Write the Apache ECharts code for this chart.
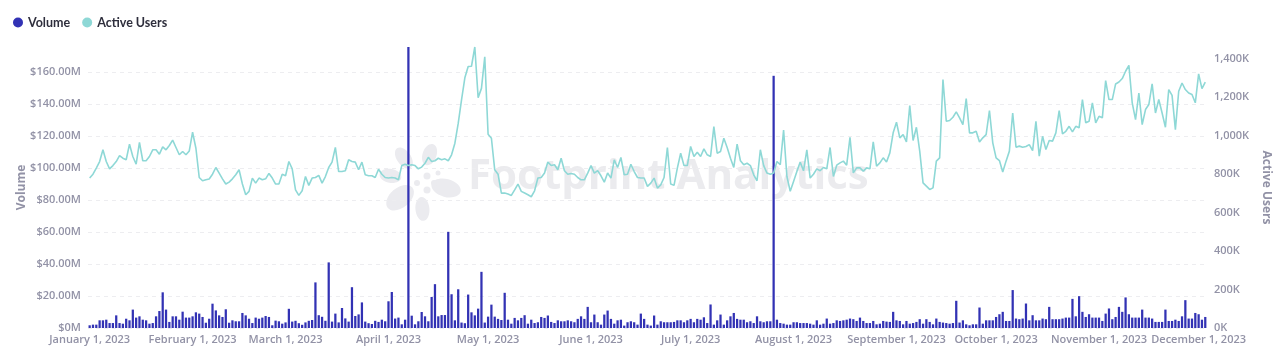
<!DOCTYPE html>
<html><head><meta charset="utf-8">
<script src="https://cdn.jsdelivr.net/npm/echarts@6/dist/echarts.min.js"></script>
<style>html,body{margin:0;padding:0;background:#fff}#c{width:1280px;height:358px}</style>
</head><body><div id="c"></div>
<script>
// ---- data ----
const startDate = [2023, 0, 1];   // January 1, 2023, one category per day
const dayCount = 337;             // through December 3, 2023
const monthNames = ['January','February','March','April','May','June','July','August','September','October','November','December'];

// daily trading volume, in millions of USD
const volumeM = [
 1.7,2.1,2.1,4.8,4.8,5.2,3.1,3.1,7.9,3.1,
 2.7,5.8,4.8,11.5,6.5,7.3,5.2,4.8,2.7,3.1,
 7.3,10.6,22.3,11.5,3.8,7.3,7.3,5.2,10.2,6.5,
 6.5,7.3,9.8,
 9,6.9,3.3,5.8,15.2,11,7.9,6.9,11.7,3.3,4.8,4.2,4.2,9.4,7.9,5.8,3.1,6.5,5.8,6.5,7.5,6.9,1.7,4.6,4.2,2.7,3.5,12,
 4,4.5,3,2,3.5,4.5,5,28.5,8,7,4.5,41,4,9,3.5,12.5,6,4,25.5,7.5,8.5,16,4,3,2.5,4.5,3.8,5.2,4.2,16.7,22.5,5.9,6.5,2.3,5.2,
 175.6,7.7,2.3,4.2,10,7.3,4.2,19.4,27.4,7.3,8.1,8.1,60.1,21.1,4.8,24.2,3.4,3.0,20.9,9.8,7.9,12.1,35.1,3.4,7.1,14.6,7.1,5.7,5,22,
 5.2,2.7,6.3,4.8,6.3,8,2.7,5.2,3.1,3.6,
 6.9,6.3,7.8,3.8,3.1,4.8,4.2,4.2,4.8,4.2,
 3.6,5.7,7.3,5.7,13.2,3.6,8.4,3.6,2.1,8.4,
 10.9,5.7,2.7,4.8,5.2,1.5,3.6,4.2,3.6,2.1,
 9,5.7,2.1,1.5,7.8,2.1,4.2,3.6,3.6,3.6,
 3.8,4.8,4.8,3.6,4.8,5.7,3.6,5.7,5.2,6.7,
 3.1,14.7,2.1,4.8,8.4,2.1,4.8,7.3,9.4,5.7,
 5.2,5.2,3.6,4.2,3.1,7.3,4.2,3.6,4.2,4.2,
 157.6,
 5.2,3.1,2.7,2.1,2.1,3.6,3.6,3.1,3.1,3.1,2.7,2.1,4.8,2.1,2.7,
 5.9,2.7,3.1,4.8,4.4,4.8,5.2,5.9,5.5,4.4,
 6.5,4.4,3.1,3.1,4.4,2.3,2.7,4.4,4.0,3.8,
 10.1,4.8,4.4,2.3,4.4,2.7,3.1,3.8,5.5,2.7,
 5.5,3.8,2.3,5.9,3.8,3.4,3.1,2.7,3.1,17,
 3.4,4.8,2.3,1.7,2.3,2.3,12.8,2.7,4.8,4.8,
 4.8,6.9,8.6,10.1,4.4,4.4,23.7,5.9,5.5,5.9,
 15.3,4.8,8,4.8,4.8,5.9,5.5,13.2,5.5,5.5,
 5.5,5.9,6.5,6.5,18.2,7.3,19.9,10.1,6.9,8.6,
 6.5,6.5,6.5,4.4,9,12.2,5.5,6.9,13.2,10.1,
 19.1,8.6,6.5,6.5,6.5,11.5,6.5,6.5,5.9,3.8,
 3.8,3.8,11.5,4.4,4.4,5.2,4.4,7.3,17.4,5.9,
 5.9,9.4,8.6,5.2,6.9
];

// daily active users, in thousands
const activeUsersK = [
 779,799,831,865,926,865,827,844,865,896,
 882,874,955,891,851,965,869,869,891,926,
 926,903,941,926,948,976,938,900,917,900,
 920,1017,934,782,765,770,774,799,834,805,
 775,748,758,775,796,822,748,692,710,779,
 753,779,770,775,803,779,748,748,799,791,
 865,827,718,689,713,787,741,779,782,793,
 753,787,834,862,938,813,813,817,874,865,
 862,822,862,796,791,791,782,825,799,782,
 779,782,779,770,844,851,844,848,844,827,
 836,856,887,865,869,882,874,879,869,900,
 960,1063,1185,1300,1359,1360,1460,
 1197,1245,1409,1007,986,822,799,701,701,696,
 689,718,748,710,701,692,682,713,779,782,
 805,862,844,848,822,882,817,799,803,799,
 782,770,770,805,844,805,818,791,758,805,
 779,874,834,886,796,799,851,813,782,779,
 779,736,753,779,727,744,782,938,748,741,
 831,908,844,844,943,891,913,891,931,900,
 891,1046,908,917,986,938,882,834,955,869,
 848,856,844,796,765,926,844,805,799,805,
 865,848,1029,787,710,761,813,862,817,926,
 779,799,827,817,834,827,938,787,
 846,858,867,846,991,806,832,832,815,832,
 827,967,841,858,884,863,910,1014,1069,988,
 1005,967,1156,974,1043,919,754,737,720,728,
 867,884,1291,1074,1078,1095,1123,1092,1057,1192,
 1014,1014,1022,967,988,1005,1130,962,884,870,
 811,867,919,1117,939,945,939,943,953,922,
 1074,893,996,927,974,971,1014,1130,1009,1022,
 1048,1019,1048,1040,1187,1066,1074,1170,1066,1100,
 1092,1285,1187,1187,1268,1278,1296,1334,1365,1170,
 1083,1221,1057,1135,1161,1268,1117,1187,1117,1043,
 1239,1209,1031,1230,1273,1239,1221,1213,1170,1320,
 1244,1278
];

// ---- build categories ----
const dates = [];
for (let i = 0; i < dayCount; i++) {
  const d = new Date(Date.UTC(startDate[0], startDate[1], startDate[2] + i));
  dates.push(d.toISOString().slice(0, 10));
}
function fmtDate(s) {
  const p = s.split('-');
  return monthNames[+p[1] - 1] + ' ' + (+p[2]) + ', ' + p[0];
}

const gray = '#9292a6';
const font = '"Open Sans", "Noto Sans", sans-serif';

const chart = echarts.init(document.getElementById('c'), null, {renderer: 'canvas'});

// watermark logo petals (decorative)
const petals = [
  {a: -125, r: 28, rx: 12, ry: 7}, {a: -70, r: 28, rx: 11, ry: 7}, {a: 15, r: 27, rx: 15, ry: 9},
  {a: 85, r: 28, rx: 12, ry: 7}, {a: 140, r: 26, rx: 16, ry: 10}, {a: 190, r: 30, rx: 11, ry: 7}
];
const logoChildren = petals.map(p => ({
  type: 'ellipse',
  x: Math.cos(p.a * Math.PI / 180) * p.r,
  y: Math.sin(p.a * Math.PI / 180) * p.r,
  rotation: -p.a * Math.PI / 180,
  shape: {cx: 0, cy: 0, rx: p.rx, ry: p.ry},
  style: {fill: '#ebebef'}
}));
[[7,-5,3.5],[14,2,3],[7,9,3.5],[-3,2,3],[18,-8,2.5]].forEach(c => logoChildren.push({
  type: 'circle', shape: {cx: c[0], cy: c[1], r: c[2]}, style: {fill: '#ebebef'}
}));

chart.setOption({
  animation: false,
  backgroundColor: '#ffffff',
  textStyle: {fontFamily: font},
  legend: {
    data: ['Volume', 'Active Users'],
    left: 8, top: 11, icon: 'circle', itemWidth: 10, itemHeight: 10, itemGap: 12,
    textStyle: {fontSize: 12.5, fontWeight: 'bold', color: '#2e2e3c', fontFamily: 'Lato, sans-serif'}
  },
  graphic: [
    {type: 'group', x: 420, y: 181, z: -10, silent: true, children: logoChildren},
    {type: 'text', left: 468, top: 156, z: -10, silent: true,
     style: {text: 'Footprint Analytics', font: 'bold 42px "Open Sans", sans-serif', fill: '#ebebee'}}
  ],
  grid: {left: 88, right: 67, top: 47, bottom: 30},
  xAxis: {
    type: 'category',
    data: dates,
    boundaryGap: true,
    axisLine: {show: false},
    axisTick: {show: false},
    axisLabel: {
      interval: (idx, val) => val.slice(8) === '01',
      formatter: fmtDate,
      color: gray, fontSize: 11, fontWeight: 600, margin: 6, fontFamily: font
    },
    splitLine: {show: false}
  },
  yAxis: [
    {
      type: 'value', min: 0, max: 'dataMax', interval: 20,
      name: 'Volume', nameLocation: 'middle', nameGap: 60, nameMoveOverlap: false,
      nameTextStyle: {color: gray, fontSize: 12, fontWeight: 'bold', fontFamily: font},
      axisLine: {show: false}, axisTick: {show: false},
      axisLabel: {
        showMaxLabel: false, margin: 7, color: gray, fontSize: 11, fontWeight: 600, fontFamily: font,
        formatter: v => v === 0 ? '$0M' : '$' + v.toFixed(2) + 'M'
      },
      splitLine: {show: true, showMaxLine: false, lineStyle: {type: [4, 4], color: '#ededf0', width: 1}}
    },
    {
      type: 'value', min: 0, max: 'dataMax', interval: 200, position: 'right',
      name: 'Active Users', nameLocation: 'middle', nameGap: 47, nameRotate: -90,
      nameTextStyle: {color: gray, fontSize: 12, fontWeight: 'bold', fontFamily: font},
      axisLine: {show: false}, axisTick: {show: false},
      axisLabel: {
        showMaxLabel: false, margin: 7, color: gray, fontSize: 11, fontWeight: 600, fontFamily: font,
        formatter: v => v.toLocaleString('en-US') + 'K'
      },
      splitLine: {show: false}
    }
  ],
  series: [
    {
      name: 'Volume', type: 'bar', data: volumeM, yAxisIndex: 0,
      barCategoryGap: '32%',
      itemStyle: {color: '#3232b4'}
    },
    {
      name: 'Active Users', type: 'line', data: activeUsersK, yAxisIndex: 1,
      showSymbol: false, symbol: 'circle',
      lineStyle: {color: '#8ed8d6', width: 1.6},
      itemStyle: {color: '#8ed8d6'}
    }
  ]
});
</script>
</body></html>
